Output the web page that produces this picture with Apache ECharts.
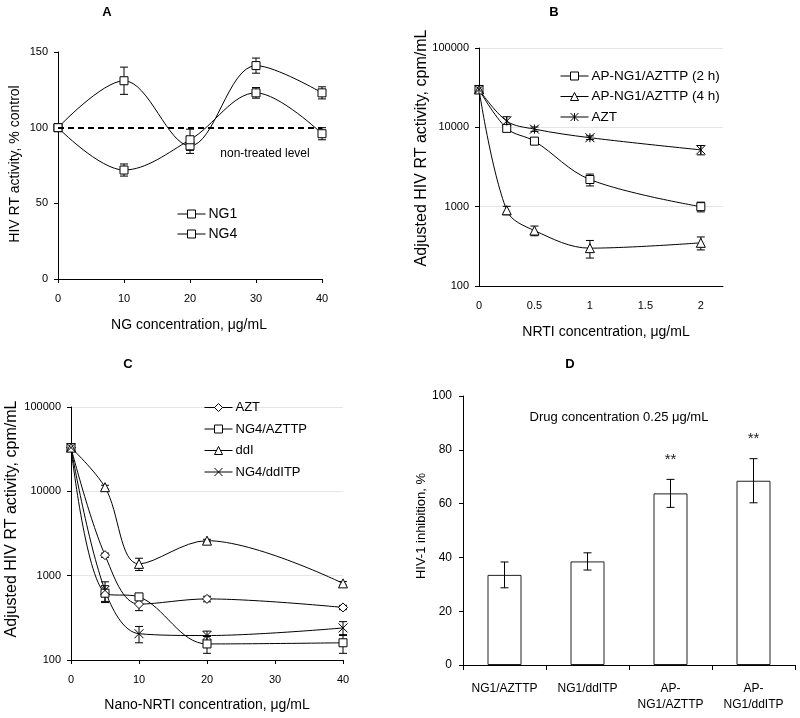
<!DOCTYPE html>
<html><head><meta charset="utf-8">
<script src="https://cdn.jsdelivr.net/npm/echarts@6/dist/echarts.min.js"></script>
<style>html,body{margin:0;padding:0;background:#fff}#c{width:800px;height:718px}</style>
</head><body><div id="c"></div>
<script>
// ---------- Panel A ----------
const A_x = [0, 10, 20, 30, 40];
const A_NG1 = [100, 131, 88, 141, 123];
const A_NG1_err = [0, 9, 5, 5, 4];
const A_NG4 = [100, 72, 92, 123, 96];
const A_NG4_err = [0, 4, 7, 3.5, 4];
const A_level = 100;
// ---------- Panel B ----------
const B_x = [0, 0.25, 0.5, 1, 2];
const B_2h = [30000, 9700, 6700, 2200, 1000];
const B_2h_err = [0, 500, 300, 375, 140];
const B_4h = [30000, 900, 500, 300, 350];
const B_4h_err = [0, 110, 70, 75, 65];
const B_AZT = [30000, 12000, 9500, 7400, 5200];
const B_AZT_err = [0, 1600, 600, 400, 700];
// ---------- Panel C ----------
const C_x = [0, 5, 10, 20, 40];
const C_AZT = [33000, 1750, 460, 530, 420];
const C_AZT_err = [0, 100, 75, 40, 25];
const C_AZTTP = [33000, 620, 560, 155, 160];
const C_AZTTP_err = [0, 140, 40, 35, 40];
const C_ddI = [33000, 11200, 1380, 2600, 810];
const C_ddI_err = [0, 600, 230, 100, 40];
const C_ddITP = [33000, 670, 205, 195, 240];
const C_ddITP_err = [0, 175, 45, 25, 45];
// ---------- Panel D ----------
const D_cats = ['NG1/AZTTP', 'NG1/ddITP', 'AP-\nNG1/AZTTP', 'AP-\nNG1/ddITP'];
const D_vals = [33.5, 38.5, 63.8, 68.5];
const D_err = [4.8, 3.2, 5.2, 8.2];
const D_sig = ['', '', '**', '**'];

const FONT = "'Liberation Sans', Arial, sans-serif";
const BLACK = '#000';

function lineSeries(name, xi, xs, ys, symbol, size) {
  return {
    type: 'line', name, xAxisIndex: xi, yAxisIndex: xi,
    data: xs.map((x, i) => [x, ys[i]]),
    smooth: 0.35, symbol, symbolSize: size, showAllSymbol: true,
    lineStyle: { color: BLACK, width: 1 },
    itemStyle: { color: '#fff', borderColor: BLACK, borderWidth: 1 },
    z: 3, animation: false
  };
}
function errSeries(xi, xs, ys, es, sig) {
  return {
    type: 'custom', xAxisIndex: xi, yAxisIndex: xi, z: 2, animation: false,
    silent: true,
    encode: { x: 0, y: 1 },
    data: xs.map((x, i) => [x, ys[i], es[i], i]),
    renderItem: function (params, api) {
      const x = api.value(0), y = api.value(1), e = api.value(2), idx = api.value(3);
      const children = [];
      if (e) {
        const top = api.coord([x, y + e]);
        const bot = api.coord([x, y - e]);
        const w = 4;
        const st = { stroke: BLACK, lineWidth: 1 };
        children.push({ type: 'line', shape: { x1: top[0], y1: top[1], x2: bot[0], y2: bot[1] }, style: st });
        children.push({ type: 'line', shape: { x1: top[0] - w, y1: top[1], x2: top[0] + w, y2: top[1] }, style: st });
        children.push({ type: 'line', shape: { x1: bot[0] - w, y1: bot[1], x2: bot[0] + w, y2: bot[1] }, style: st });
        if (sig && sig[idx]) {
          children.push({ type: 'text', style: { text: sig[idx], x: top[0], y: top[1] - 20, align: 'center', verticalAlign: 'middle', font: '15px ' + FONT, fill: '#222' } });
        }
      }
      return { type: 'group', children };
    }
  };
}

const axisLineStyle = { show: true, lineStyle: { color: BLACK, width: 1 } };
const tickStyle = { show: true, length: 4, lineStyle: { color: BLACK } };
const lblStyle = (m) => ({ color: BLACK, fontSize: 11, fontFamily: FONT, margin: m });
const logFmt = (v) => String(Math.round(v));

const grids = [
  { left: 58, top: 52, width: 264, height: 227 },
  { left: 479, top: 48, width: 244, height: 238 },
  { left: 71, top: 407, width: 272, height: 253 },
  { left: 463, top: 396, width: 332, height: 269 }
].map(g => Object.assign({ outerBoundsMode: 'none', containLabel: false }, g));

const xAxes = [
  { gridIndex: 0, type: 'value', min: 0, max: 40, interval: 10, axisLine: axisLineStyle, axisTick: tickStyle, splitLine: { show: false }, axisLabel: lblStyle(14) },
  { gridIndex: 1, type: 'value', min: 0, max: 2.2, interval: 0.5, axisLine: axisLineStyle, axisTick: { show: false }, splitLine: { show: false },
    axisLabel: Object.assign(lblStyle(14), { showMaxLabel: false, formatter: v => (Math.abs(v * 2 - Math.round(v * 2)) < 1e-6 ? String(v) : '') }) },
  { gridIndex: 2, type: 'value', min: 0, max: 40, interval: 10, axisLine: axisLineStyle, axisTick: tickStyle, splitLine: { show: false }, axisLabel: lblStyle(14) },
  { gridIndex: 3, type: 'category', data: D_cats, axisLine: axisLineStyle, axisTick: { show: true, length: 5, alignWithLabel: false, lineStyle: { color: BLACK } },
    axisLabel: Object.assign(lblStyle(16), { fontSize: 12, lineHeight: 16, interval: 0 }) }
];
const yAxes = [
  { gridIndex: 0, type: 'value', min: 0, max: 150, interval: 50, axisLine: axisLineStyle, axisTick: tickStyle, splitLine: { show: false }, axisLabel: lblStyle(10) },
  { gridIndex: 1, type: 'log', logBase: 10, min: 100, max: 100000, axisLine: axisLineStyle, axisTick: tickStyle,
    splitLine: { show: true, lineStyle: { color: '#e6e6e6' } }, minorTick: { show: false }, axisLabel: Object.assign(lblStyle(10), { formatter: logFmt }) },
  { gridIndex: 2, type: 'log', logBase: 10, min: 100, max: 100000, axisLine: axisLineStyle, axisTick: tickStyle,
    splitLine: { show: true, lineStyle: { color: '#e6e6e6' } }, minorTick: { show: false }, axisLabel: Object.assign(lblStyle(10), { formatter: logFmt }) },
  { gridIndex: 3, type: 'value', min: 0, max: 100, interval: 20, axisLine: axisLineStyle, axisTick: tickStyle, splitLine: { show: false }, axisLabel: Object.assign(lblStyle(11), { fontSize: 12 }) }
];

const ASTER = 'path://M0,0L10,10M10,0L0,10M5,0L5,10';
const CROSS = 'path://M0,0L10,10M10,0L0,10';

const ng1 = lineSeries('NG1', 0, A_x, A_NG1, 'rect', 8);
ng1.markLine = { silent: true, symbol: 'none', label: { show: false },
  lineStyle: { color: BLACK, type: [6, 4], width: 2 }, data: [{ yAxis: A_level }], animation: false };

const series = [
  errSeries(0, A_x, A_NG1, A_NG1_err),
  errSeries(0, A_x, A_NG4, A_NG4_err),
  ng1,
  lineSeries('NG4', 0, A_x, A_NG4, 'rect', 8),

  errSeries(1, B_x, B_2h, B_2h_err),
  errSeries(1, B_x, B_4h, B_4h_err),
  errSeries(1, B_x, B_AZT, B_AZT_err),
  lineSeries('AP-NG1/AZTTP (2 h)', 1, B_x, B_2h, 'rect', 8),
  lineSeries('AP-NG1/AZTTP (4 h)', 1, B_x, B_4h, 'triangle', 9),
  lineSeries('B:AZT', 1, B_x, B_AZT, ASTER, 9),

  errSeries(2, C_x, C_AZT, C_AZT_err),
  errSeries(2, C_x, C_AZTTP, C_AZTTP_err),
  errSeries(2, C_x, C_ddI, C_ddI_err),
  errSeries(2, C_x, C_ddITP, C_ddITP_err),
  lineSeries('C:AZT', 2, C_x, C_AZT, 'diamond', 9),
  lineSeries('NG4/AZTTP', 2, C_x, C_AZTTP, 'rect', 8),
  lineSeries('ddI', 2, C_x, C_ddI, 'triangle', 9),
  lineSeries('NG4/ddITP', 2, C_x, C_ddITP, CROSS, 9),

  { type: 'bar', name: 'D', xAxisIndex: 3, yAxisIndex: 3, data: D_vals, barWidth: 34,
    itemStyle: { color: '#fff', borderColor: '#222', borderWidth: 1 }, z: 2, animation: false },
  errSeries(3, D_cats.map((c, i) => i), D_vals, D_err, D_sig)
];
series[series.length - 1].z = 4;

const legendFmt = n => n.replace(/^[A-D]:/, '');
const legendBase = (left, top, size, gap, data) => ({
  left, top, orient: 'vertical', itemWidth: 28, itemHeight: 10, itemGap: gap, data,
  formatter: legendFmt, selectedMode: false,
  lineStyle: { width: 1, color: BLACK },
  itemStyle: { color: '#fff', borderColor: BLACK, borderWidth: 1 },
  textStyle: { color: BLACK, fontSize: size, fontFamily: FONT, padding: [0, 0, 0, -2] }
});

function txt(text, x, y, size, opts) {
  return Object.assign({ type: 'text', x, y, silent: true,
    style: Object.assign({ text, fill: BLACK, font: size + 'px ' + FONT, align: 'center', verticalAlign: 'middle' }, (opts && opts.style) || {}) },
    opts && opts.rotation ? { rotation: opts.rotation } : {});
}
const R = Math.PI / 2;
const graphics = [
  txt('A', 107, 12, 13, { style: { font: 'bold 13px ' + FONT } }),
  txt('B', 554, 12, 13, { style: { font: 'bold 13px ' + FONT } }),
  txt('C', 128, 364, 13, { style: { font: 'bold 13px ' + FONT } }),
  txt('D', 570, 364, 13, { style: { font: 'bold 13px ' + FONT } }),
  txt('HIV RT activity, % control', 15, 164, 14, { rotation: R }),
  txt('NG concentration, μg/mL', 189, 325, 14),
  txt('Adjusted HIV RT activity, cpm/mL', 422, 148, 16, { rotation: R }),
  txt('NRTI concentration, μg/mL', 606, 332, 14),
  txt('Adjusted HIV RT activity, cpm/mL', 12, 519, 16, { rotation: R }),
  txt('Nano-NRTI concentration, μg/mL', 207, 705, 14),
  txt('HIV-1 inhibition, %', 421, 526, 13, { rotation: R }),
  txt('non-treated level', 265, 154, 12),
  txt('Drug concentration 0.25 μg/mL', 619, 417, 13)
];

const chart = echarts.init(document.getElementById('c'), null, { renderer: 'canvas' });
chart.setOption({
  backgroundColor: '#fff',
  animation: false,
  textStyle: { fontFamily: FONT },
  grid: grids,
  xAxis: xAxes,
  yAxis: yAxes,
  legend: [
    legendBase(172, 202, 14, 6, ['NG1', 'NG4']),
    legendBase(555, 64, 13.5, 6.5, ['AP-NG1/AZTTP (2 h)', 'AP-NG1/AZTTP (4 h)', 'B:AZT']),
    legendBase(199, 396, 13, 8.5, ['C:AZT', 'NG4/AZTTP', 'ddI', 'NG4/ddITP'])
  ],
  series,
  graphic: graphics
});
</script>
</body></html>
